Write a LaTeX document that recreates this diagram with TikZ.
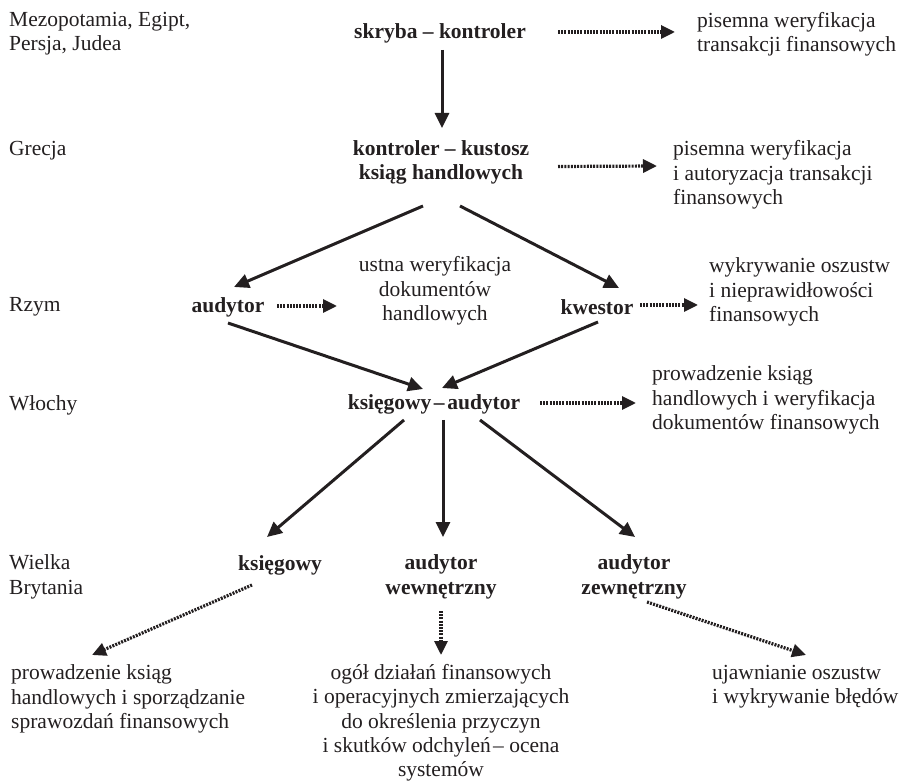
\documentclass[tikz,border=0pt]{standalone}
\usepackage{fontspec}
\setmainfont{Liberation Serif}
\usetikzlibrary{arrows.meta,calc}
\definecolor{ink}{HTML}{231F20}
\tikzset{
  txt/.style={font=\fontsize{21.5}{24.3}\selectfont, inner sep=0pt, text=ink},
  bld/.style={txt, font=\fontsize{21.5}{24.3}\selectfont\bfseries},
  arr/.style={draw=ink, line width=3pt, -{Triangle[length=15pt,width=14pt]}},
  dotarr/.style={draw=ink, line width=3.2pt, dash pattern=on 2pt off 1.2pt, -{Triangle[length=14pt,width=13pt]}}
}
\begin{document}
\begin{tikzpicture}[x=1pt,y=-1pt]
\useasboundingbox (0,0) rectangle (900,783);
% left labels
\node[txt, anchor=west, align=left] (l1) at (9,34) {Mezopotamia, Egipt,\\Persja, Judea};
\node[txt, anchor=west] (l2) at (9,151) {Grecja};
\node[txt, anchor=west] (l3) at (9,307) {Rzym};
\node[txt, anchor=west] (l4) at (9,405) {Włochy};
\node[txt, anchor=west, align=left] (l5) at (9,577) {Wielka\\Brytania};
% main nodes
\node[bld] (skryba) at (440,33) {skryba – kontroler};
\node[bld, align=center] (kontroler) at (441,162.5) {kontroler – kustosz\\ksiąg handlowych};
\node[bld] (audytor) at (228,307) {audytor};
\node[bld] (kwestor) at (597,307) {kwestor};
\node[bld] (ksaud) at (434,404) {księgowy\hspace{0.12em}–\hspace{0.12em}audytor};
\node[bld] (ksieg) at (280,565) {księgowy};
\node[bld, align=center] (aw) at (441,577) {audytor\\wewnętrzny};
\node[bld, align=center] (az) at (634,577) {audytor\\zewnętrzny};
% description nodes
\node[txt, anchor=west, align=left] (t1) at (697,34) {pisemna weryfikacja\\transakcji finansowych};
\node[txt, anchor=west, align=left] (t2) at (673,175) {pisemna weryfikacja\\i autoryzacja transakcji\\finansowych};
\node[txt, align=center] (ustna) at (435,291) {ustna weryfikacja\\dokumentów\\handlowych};
\node[txt, anchor=west, align=left] (t3) at (709,292) {wykrywanie oszustw\\i nieprawidłowości\\finansowych};
\node[txt, anchor=west, align=left] (t4) at (652,400) {prowadzenie ksiąg\\handlowych i weryfikacja\\dokumentów finansowych};
\node[txt, anchor=west, align=left] (t5L) at (11,699) {prowadzenie ksiąg\\handlowych i sporządzanie\\sprawozdań finansowych};
\node[txt, align=center] (t5M) at (441,723) {ogół działań finansowych\\i operacyjnych zmierzających\\do określenia przyczyn\\i skutków odchyleń\hspace{0.1em}– ocena\\systemów};
\node[txt, anchor=west, align=left] (t5R) at (712,687) {ujawnianie oszustw\\i wykrywanie błędów};
% solid arrows
\draw[arr] ($(skryba)+(2,17)$) -- ($(kontroler)+(1,-34.5)$);
\draw[arr] ($(kontroler)+(-18,43.5)$) -- ($(audytor)+(6,-20)$);
\draw[arr] ($(kontroler)+(19,43.5)$) -- ($(kwestor)+(22,-19)$);
\draw[arr] ($(audytor)+(0,16)$) -- ($(ksaud)+(-11,-15)$);
\draw[arr] ($(kwestor)+(1,15)$) -- ($(ksaud)+(8,-16)$);
\draw[arr] ($(ksaud)+(-30,16)$) -- ($(ksieg)+(-13,-28)$);
\draw[arr] ($(ksaud)+(9,16)$) -- ($(aw)+(2,-40)$);
\draw[arr] ($(ksaud)+(46,16)$) -- ($(az)+(1,-40)$);
% dotted arrows
\draw[dotarr] ($(skryba)+(118,-1)$) -- ($(t1.west)+(-22,-2)$);
\draw[dotarr] ($(kontroler)+(117,4)$) -- ($(t2.west)+(-16,-9)$);
\draw[dotarr] ($(audytor)+(49,-1)$) -- ($(ustna)+(-98,15)$);
\draw[dotarr] ($(kwestor)+(43,-2)$) -- ($(t3.west)+(-11,13)$);
\draw[dotarr] ($(ksaud)+(106,-1)$) -- ($(t4.west)+(-16,3)$);
\draw[dotarr] ($(ksieg)+(-28,20)$) -- ($(t5L.west)+(81,-44)$);
\draw[dotarr] ($(aw)+(0,34)$) -- ($(t5M)+(0,-68)$);
\draw[dotarr] ($(az)+(13,25)$) -- ($(t5R.west)+(94,-32)$);
\end{tikzpicture}
\end{document}
